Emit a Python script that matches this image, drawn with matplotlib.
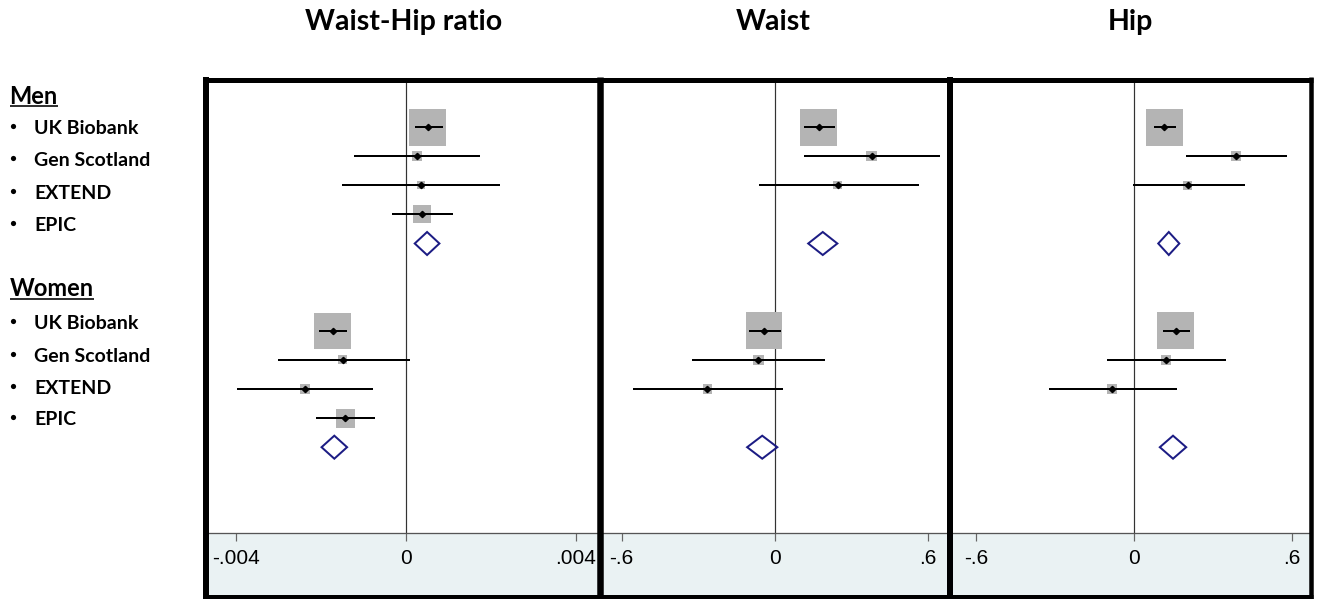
import numpy as np
import matplotlib
matplotlib.use("Agg")
import matplotlib.pyplot as plt

# ---------------- data ----------------
studies = ["UK Biobank", "Gen Scotland", "EXTEND", "EPIC"]
panel_titles = ["Waist-Hip ratio", "Waist", "Hip"]
tick_values = [[-0.004, 0, 0.004], [-0.6, 0, 0.6], [-0.6, 0, 0.6]]
tick_labels = [["-.004", "0", ".004"], ["-.6", "0", ".6"], ["-.6", "0", ".6"]]

# Waist-Hip ratio
whr_men_est = [0.00052, 0.00026, 0.00036, 0.00038]
whr_men_lo = [0.00022, -0.00121, -0.00149, -0.00033]
whr_men_hi = [0.00088, 0.00174, 0.00222, 0.00111]
whr_men_w = [73.4, 5.7, 3.6, 17.3]
whr_men_pool = [0.00050, 0.00021, 0.00079]
whr_women_est = [-0.00172, -0.00148, -0.00238, -0.00142]
whr_women_lo = [-0.00205, -0.00301, -0.00396, -0.00211]
whr_women_hi = [-0.00138, 0.00009, -0.00077, -0.00072]
whr_women_w = [70.7, 4.5, 5.3, 19.5]
whr_women_pool = [-0.00168, -0.00198, -0.00138]

# Waist (no EPIC)
waist_men_est = [0.171, 0.378, 0.245]
waist_men_lo = [0.115, 0.114, -0.063]
waist_men_hi = [0.234, 0.646, 0.565]
waist_men_w = [88.6, 7.0, 4.4]
waist_men_pool = [0.187, 0.130, 0.244]
waist_women_est = [-0.043, -0.065, -0.265]
waist_women_lo = [-0.101, -0.324, -0.555]
waist_women_hi = [0.023, 0.196, 0.030]
waist_women_w = [87.6, 6.9, 5.6]
waist_women_pool = [-0.050, -0.109, 0.009]

# Hip (no EPIC)
hip_men_est = [0.115, 0.387, 0.204]
hip_men_lo = [0.077, 0.198, -0.004]
hip_men_hi = [0.158, 0.582, 0.420]
hip_men_w = [88.1, 6.2, 5.7]
hip_men_pool = [0.132, 0.092, 0.172]
hip_women_est = [0.159, 0.121, -0.082]
hip_women_lo = [0.109, -0.101, -0.321]
hip_women_hi = [0.212, 0.349, 0.164]
hip_women_w = [87.3, 6.3, 6.3]
hip_women_pool = [0.148, 0.098, 0.198]

panels = [
    dict(men=(whr_men_est, whr_men_lo, whr_men_hi, whr_men_w, whr_men_pool),
         women=(whr_women_est, whr_women_lo, whr_women_hi, whr_women_w, whr_women_pool)),
    dict(men=(waist_men_est, waist_men_lo, waist_men_hi, waist_men_w, waist_men_pool),
         women=(waist_women_est, waist_women_lo, waist_women_hi, waist_women_w, waist_women_pool)),
    dict(men=(hip_men_est, hip_men_lo, hip_men_hi, hip_men_w, hip_men_pool),
         women=(hip_women_est, hip_women_lo, hip_women_hi, hip_women_w, hip_women_pool)),
]

# ---------------- layout ----------------
W, H = 1317, 599
DPI = 100
PX = 72 / DPI
fig = plt.figure(figsize=(W / DPI, H / DPI), dpi=DPI)
fig.patch.set_facecolor("white")


def fax(x0, y0, x1, y1, **kw):
    return fig.add_axes([x0 / W, 1 - y1 / H, (x1 - x0) / W, (y1 - y0) / H], **kw)


bg = fax(0, 0, W, H, zorder=-5)
bg.set_xlim(0, W); bg.set_ylim(H, 0); bg.axis("off")
fg = fax(0, 0, W, H, zorder=20)
fg.set_xlim(0, W); fg.set_ylim(H, 0); fg.axis("off")

STRIP = "#eaf2f3"
bg.add_patch(plt.Rectangle((203, 533), 1110, 66, color=STRIP, lw=0))

# panel inner pixel extents and xlim (from tick positions)
inner = [(209, 596.5), (603, 946.5), (952.5, 1308.5)]
zero_px = [405.8, 775.0, 1134.0]
scale = [170.2 / 0.004, 153.3 / 0.6, 158.15 / 0.6]
title_x = [404, 773, 1130]

ROW0, ROWH = 98.0, 29.1
Y_TOP, Y_BOT = 82, 533
ylim = ((Y_BOT - ROW0) / ROWH, (Y_TOP - ROW0) / ROWH)
men_rows_start, women_rows_start = 1, 8
pool_offset = 4
DH = 11.5 / ROWH
BOXMAX = 37.0

tickfont = ["Liberation Sans", "DejaVu Sans"]
labfont = ["Lato", "DejaVu Sans"]

for i, p in enumerate(panels):
    x0, x1 = inner[i]
    ax = fax(x0, Y_TOP, x1, Y_BOT)
    ax.set_facecolor("white")
    ax.set_xlim((x0 - zero_px[i]) / scale[i], (x1 - zero_px[i]) / scale[i])
    ax.set_ylim(*ylim)
    for s in ["top", "left", "right"]:
        ax.spines[s].set_visible(False)
    ax.spines["bottom"].set_color("#555555")
    ax.spines["bottom"].set_linewidth(1.0 * PX * 1.3)
    ax.set_yticks([])
    ax.set_xticks(tick_values[i])
    ax.set_xticklabels(tick_labels[i], fontfamily=tickfont, fontsize=15)
    ax.tick_params(axis="x", direction="out", length=8 * PX * 1.0, width=1.2 * PX,
                   color="#666666", pad=5.5)
    ax.axvline(0, color="#333333", lw=1.2 * PX, zorder=0)

    wmax = max(max(p["men"][3]), max(p["women"][3]))
    for key, start in (("men", men_rows_start), ("women", women_rows_start)):
        est, lo, hi, w, pool = p[key]
        rows = np.arange(len(est)) + start
        side = BOXMAX * np.sqrt(np.array(w) / wmax) * PX
        ax.scatter(est, rows, s=side ** 2, marker="s", color="#b4b4b4",
                   linewidths=0, zorder=1)
        ax.hlines(rows, lo, hi, color="black", lw=2.0 * PX, zorder=2)
        ax.plot(est, rows, "D", ms=3.2, color="black", ls="none", zorder=3)
        pr = start + pool_offset
        ax.fill([pool[1], pool[0], pool[2], pool[0]],
                [pr, pr - DH, pr, pr + DH], fc="none", ec="#1c1c84",
                lw=2.0 * PX, zorder=3)

    fg.text(title_x[i], 30, panel_titles[i], ha="center", va="baseline",
            fontsize=20.5, fontweight="bold", fontfamily=labfont)

# frames
LW = PX
for xc, wpx in ((206, 6), (599.75, 6.5), (949.5, 6), (1310.75, 4.5)):
    fg.plot([xc, xc], [77, 599], color="black", lw=wpx * LW, solid_capstyle="butt")
for yc, wpx in ((79.5, 5), (596.5, 5)):
    fg.plot([203, 1313], [yc, yc], color="black", lw=wpx * LW, solid_capstyle="butt")

# left labels
group_labels = ["Men", "Women"]
group_baseline = [103.5, 296.5]
item_baselines = [[134, 166, 198.7, 231], [329, 362, 393.7, 425]]
heads = []
for g in range(2):
    t = fg.text(9.5, group_baseline[g], group_labels[g], ha="left", va="baseline",
                fontsize=17, fontweight="bold", fontfamily=labfont)
    heads.append(t)
    fg.scatter([12.5] * len(studies), np.array(item_baselines[g]) - 8,
               s=(5.2 * PX) ** 2 * 1.0, color="black", linewidths=0)
    for j, name in enumerate(studies):
        fg.text(34, item_baselines[g][j], name, ha="left", va="baseline",
                fontsize=14, fontweight="bold", fontfamily=labfont)

fig.canvas.draw()
r = fig.canvas.get_renderer()
for g, t in enumerate(heads):
    bb = t.get_window_extent(r)
    yb = group_baseline[g] + 2
    fg.plot([bb.x0, bb.x1], [yb, yb], color="black", lw=1.6 * PX, solid_capstyle="butt")

fig.savefig("out.png", dpi=DPI, facecolor="white")
